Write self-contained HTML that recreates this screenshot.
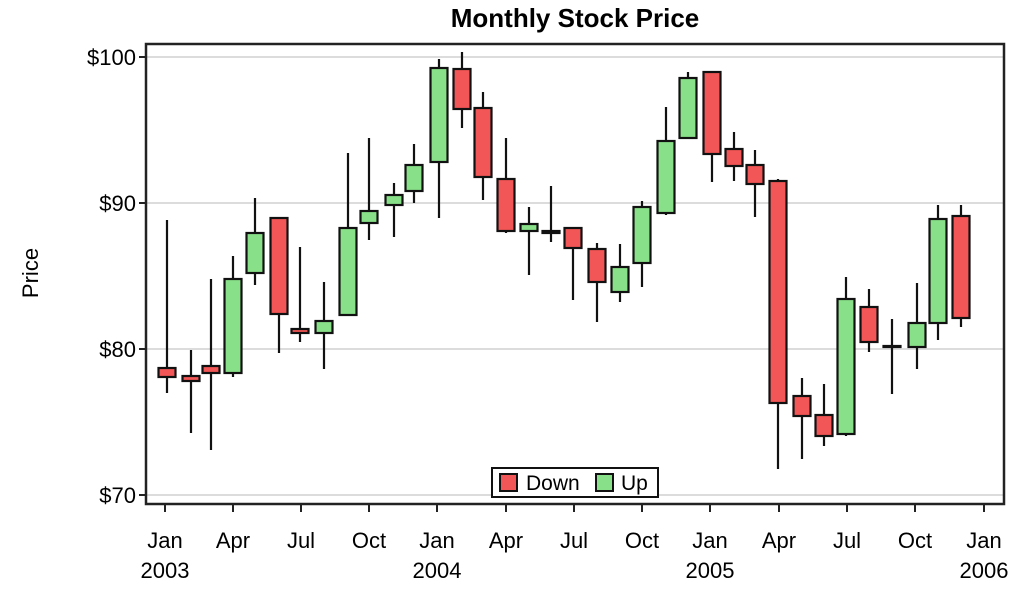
<!DOCTYPE html>
<html><head><meta charset="utf-8"><style>
html,body{margin:0;padding:0;background:#fff;}
svg{display:block;font-family:"Liberation Sans",Arial,sans-serif;}
</style></head><body>
<svg width="1016" height="595" viewBox="0 0 1016 595" xmlns="http://www.w3.org/2000/svg">
<rect x="0" y="0" width="1016" height="595" fill="#fff"/>
<text x="575" y="27" text-anchor="middle" font-size="26" font-weight="bold">Monthly Stock Price</text>
<text transform="translate(38,273) rotate(-90)" text-anchor="middle" font-size="22">Price</text>
<g stroke="#dcdcdc" stroke-width="2">
<line x1="147" x2="1003" y1="57" y2="57"/><line x1="147" x2="1003" y1="203" y2="203"/>
<line x1="147" x2="1003" y1="349" y2="349"/><line x1="147" x2="1003" y1="495" y2="495"/>
</g>
<g font-size="22" text-anchor="end">
<text x="136" y="65">$100</text><text x="136" y="211">$90</text><text x="136" y="357">$80</text><text x="136" y="503">$70</text>
</g>
<g stroke="#222" stroke-width="2">
<line x1="139" x2="146" y1="57" y2="57"/><line x1="139" x2="146" y1="203" y2="203"/>
<line x1="139" x2="146" y1="349" y2="349"/><line x1="139" x2="146" y1="495" y2="495"/>
</g>
<g stroke="#111" stroke-width="2.2">
<line x1="167" x2="167" y1="220" y2="393"/><rect x="158.5" y="368" width="17" height="9" fill="#f25656"/>
<line x1="191" x2="191" y1="350" y2="433"/><rect x="182.5" y="376" width="17" height="5" fill="#f25656"/>
<line x1="211" x2="211" y1="279" y2="450"/><rect x="202.5" y="366" width="17" height="7" fill="#f25656"/>
<line x1="233" x2="233" y1="256" y2="377"/><rect x="224.5" y="279" width="17" height="94" fill="#88e088"/>
<line x1="255" x2="255" y1="198" y2="285"/><rect x="246.5" y="233" width="17" height="40" fill="#88e088"/>
<line x1="279" x2="279" y1="218" y2="353"/><rect x="270.5" y="218" width="17" height="96" fill="#f25656"/>
<line x1="300" x2="300" y1="247" y2="342"/><rect x="291.5" y="329" width="17" height="4" fill="#f25656"/>
<line x1="324" x2="324" y1="282" y2="369"/><rect x="315.5" y="321" width="17" height="12" fill="#88e088"/>
<line x1="348" x2="348" y1="153" y2="315"/><rect x="339.5" y="228" width="17" height="87" fill="#88e088"/>
<line x1="369" x2="369" y1="138" y2="240"/><rect x="360.5" y="211" width="17" height="12" fill="#88e088"/>
<line x1="394" x2="394" y1="183" y2="237"/><rect x="385.5" y="195" width="17" height="10" fill="#88e088"/>
<line x1="414" x2="414" y1="144" y2="203"/><rect x="405.5" y="165" width="17" height="26" fill="#88e088"/>
<line x1="439" x2="439" y1="59" y2="218"/><rect x="430.5" y="68" width="17" height="94" fill="#88e088"/>
<line x1="462" x2="462" y1="52" y2="128"/><rect x="453.5" y="69" width="17" height="40" fill="#f25656"/>
<line x1="483" x2="483" y1="92" y2="200"/><rect x="474.5" y="108" width="17" height="69" fill="#f25656"/>
<line x1="506" x2="506" y1="138" y2="233"/><rect x="497.5" y="179" width="17" height="52" fill="#f25656"/>
<line x1="529" x2="529" y1="207" y2="275"/><rect x="520.5" y="224" width="17" height="7" fill="#88e088"/>
<line x1="551" x2="551" y1="186" y2="242"/><rect x="542.5" y="231" width="17" height="2" fill="#f25656"/>
<line x1="573" x2="573" y1="228" y2="300"/><rect x="564.5" y="228" width="17" height="20" fill="#f25656"/>
<line x1="597" x2="597" y1="243" y2="322"/><rect x="588.5" y="249" width="17" height="33" fill="#f25656"/>
<line x1="620" x2="620" y1="244" y2="302"/><rect x="611.5" y="267" width="17" height="25" fill="#88e088"/>
<line x1="642" x2="642" y1="201" y2="287"/><rect x="633.5" y="207" width="17" height="56" fill="#88e088"/>
<line x1="666" x2="666" y1="107" y2="215"/><rect x="657.5" y="141" width="17" height="72" fill="#88e088"/>
<line x1="688" x2="688" y1="72" y2="138"/><rect x="679.5" y="78" width="17" height="60" fill="#88e088"/>
<line x1="712" x2="712" y1="72" y2="182"/><rect x="703.5" y="72" width="17" height="82" fill="#f25656"/>
<line x1="734" x2="734" y1="132" y2="181"/><rect x="725.5" y="149" width="17" height="17" fill="#f25656"/>
<line x1="755" x2="755" y1="150" y2="217"/><rect x="746.5" y="165" width="17" height="19" fill="#f25656"/>
<line x1="778" x2="778" y1="179" y2="469"/><rect x="769.5" y="181" width="17" height="222" fill="#f25656"/>
<line x1="802" x2="802" y1="378" y2="459"/><rect x="793.5" y="396" width="17" height="20" fill="#f25656"/>
<line x1="824" x2="824" y1="384" y2="446"/><rect x="815.5" y="415" width="17" height="21" fill="#f25656"/>
<line x1="846" x2="846" y1="277" y2="436"/><rect x="837.5" y="299" width="17" height="135" fill="#88e088"/>
<line x1="869" x2="869" y1="289" y2="352"/><rect x="860.5" y="307" width="17" height="35" fill="#f25656"/>
<line x1="892" x2="892" y1="319" y2="394"/><rect x="883.5" y="346" width="17" height="1" fill="#f25656"/>
<line x1="917" x2="917" y1="283" y2="369"/><rect x="908.5" y="323" width="17" height="24" fill="#88e088"/>
<line x1="938" x2="938" y1="205" y2="340"/><rect x="929.5" y="219" width="17" height="104" fill="#88e088"/>
<line x1="961" x2="961" y1="205" y2="327"/><rect x="952.5" y="216" width="17" height="102" fill="#f25656"/>
</g>
<rect x="146" y="44" width="858" height="460" fill="none" stroke="#222" stroke-width="2.5"/>
<g stroke="#222" stroke-width="2">
<line x1="165" x2="165" y1="504" y2="512"/><line x1="233" x2="233" y1="504" y2="512"/>
<line x1="301" x2="301" y1="504" y2="512"/><line x1="369" x2="369" y1="504" y2="512"/>
<line x1="437" x2="437" y1="504" y2="512"/><line x1="506" x2="506" y1="504" y2="512"/>
<line x1="574" x2="574" y1="504" y2="512"/><line x1="642" x2="642" y1="504" y2="512"/>
<line x1="710" x2="710" y1="504" y2="512"/><line x1="779" x2="779" y1="504" y2="512"/>
<line x1="847" x2="847" y1="504" y2="512"/><line x1="915" x2="915" y1="504" y2="512"/>
<line x1="984" x2="984" y1="504" y2="512"/>
</g>
<g font-size="22" text-anchor="middle">
<text x="165" y="548">Jan</text><text x="165" y="578">2003</text>
<text x="233" y="548">Apr</text><text x="301" y="548">Jul</text><text x="369" y="548">Oct</text>
<text x="437" y="548">Jan</text><text x="437" y="578">2004</text>
<text x="506" y="548">Apr</text><text x="574" y="548">Jul</text><text x="642" y="548">Oct</text>
<text x="710" y="548">Jan</text><text x="710" y="578">2005</text>
<text x="779" y="548">Apr</text><text x="847" y="548">Jul</text><text x="915" y="548">Oct</text>
<text x="984" y="548">Jan</text><text x="984" y="578">2006</text>
</g>
<rect x="492" y="468" width="166" height="29" fill="#fff" stroke="#111" stroke-width="2"/>
<rect x="500" y="474" width="17" height="17" fill="#f25656" stroke="#111" stroke-width="2"/>
<text x="526" y="490" font-size="21">Down</text>
<rect x="596" y="474" width="17" height="17" fill="#88e088" stroke="#111" stroke-width="2"/>
<text x="621" y="490" font-size="21">Up</text>
</svg>
</body></html>
